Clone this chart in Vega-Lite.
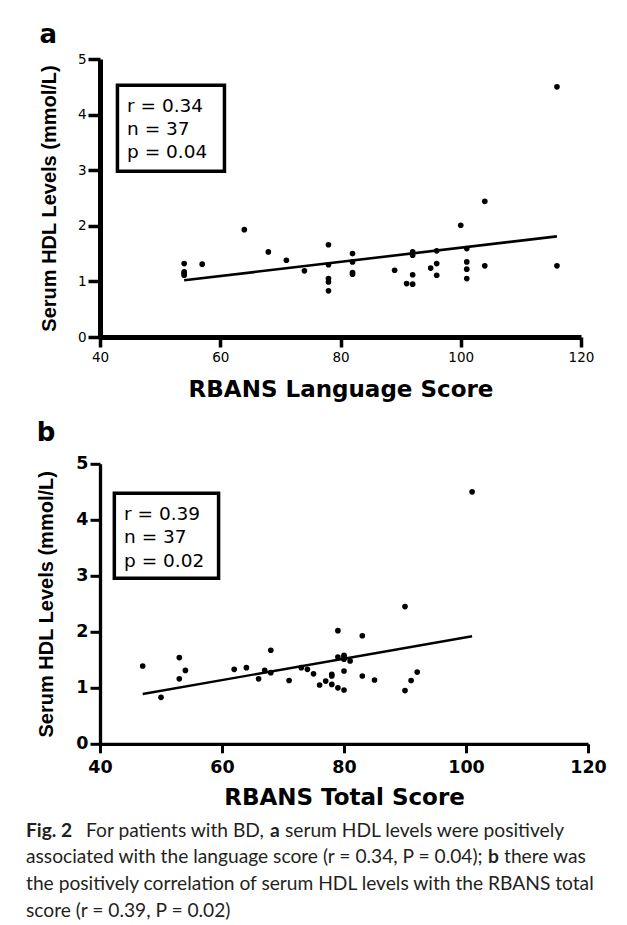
{
  "$schema": "https://vega.github.io/schema/vega-lite/v6.json",
  "background": "white",
  "padding": {"left": 26, "top": 22, "right": 0, "bottom": 0},
  "spacing": 17.8,
  "config": {"view": {"stroke": null}, "font": "DejaVu Sans"},
  "datasets": {
    "a": [
      {"lang": 54, "hdl": 1.32}, {"lang": 54, "hdl": 1.17}, {"lang": 54, "hdl": 1.14}, {"lang": 54, "hdl": 1.11},
      {"lang": 57, "hdl": 1.31}, {"lang": 64, "hdl": 1.93}, {"lang": 68, "hdl": 1.53}, {"lang": 71, "hdl": 1.38},
      {"lang": 74, "hdl": 1.19}, {"lang": 78, "hdl": 1.66}, {"lang": 78, "hdl": 1.30}, {"lang": 78, "hdl": 1.05},
      {"lang": 78, "hdl": 0.99}, {"lang": 78, "hdl": 0.83}, {"lang": 82, "hdl": 1.50}, {"lang": 82, "hdl": 1.35},
      {"lang": 82, "hdl": 1.16}, {"lang": 82, "hdl": 1.13}, {"lang": 89, "hdl": 1.20}, {"lang": 91, "hdl": 0.96},
      {"lang": 92, "hdl": 1.53}, {"lang": 92, "hdl": 1.47}, {"lang": 92, "hdl": 1.12}, {"lang": 92, "hdl": 0.95},
      {"lang": 95, "hdl": 1.24}, {"lang": 96, "hdl": 1.55}, {"lang": 96, "hdl": 1.32}, {"lang": 96, "hdl": 1.11},
      {"lang": 100, "hdl": 2.01}, {"lang": 101, "hdl": 1.59}, {"lang": 101, "hdl": 1.35}, {"lang": 101, "hdl": 1.22},
      {"lang": 101, "hdl": 1.05}, {"lang": 104, "hdl": 2.44}, {"lang": 104, "hdl": 1.28}, {"lang": 116, "hdl": 4.50},
      {"lang": 116, "hdl": 1.28}
    ],
    "fitA": [{"lang": 54, "hdl": 1.02}, {"lang": 116, "hdl": 1.81}],
    "b": [
      {"total": 47, "hdl": 1.39}, {"total": 50, "hdl": 0.83}, {"total": 53, "hdl": 1.54}, {"total": 53, "hdl": 1.16},
      {"total": 54, "hdl": 1.31}, {"total": 62, "hdl": 1.33}, {"total": 64, "hdl": 1.36}, {"total": 66, "hdl": 1.16},
      {"total": 67, "hdl": 1.31}, {"total": 68, "hdl": 1.67}, {"total": 68, "hdl": 1.27}, {"total": 71, "hdl": 1.13},
      {"total": 73, "hdl": 1.36}, {"total": 74, "hdl": 1.33}, {"total": 75, "hdl": 1.25}, {"total": 76, "hdl": 1.05},
      {"total": 77, "hdl": 1.12}, {"total": 78, "hdl": 1.21}, {"total": 78, "hdl": 1.24}, {"total": 78, "hdl": 1.06},
      {"total": 79, "hdl": 2.02}, {"total": 79, "hdl": 1.55}, {"total": 79, "hdl": 1.00}, {"total": 80, "hdl": 1.58},
      {"total": 80, "hdl": 1.51}, {"total": 80, "hdl": 1.55}, {"total": 80, "hdl": 1.30}, {"total": 80, "hdl": 0.96},
      {"total": 81, "hdl": 1.48}, {"total": 83, "hdl": 1.93}, {"total": 83, "hdl": 1.21}, {"total": 85, "hdl": 1.14},
      {"total": 90, "hdl": 2.45}, {"total": 90, "hdl": 0.95}, {"total": 91, "hdl": 1.13}, {"total": 92, "hdl": 1.28},
      {"total": 101, "hdl": 4.50}
    ],
    "fitB": [{"total": 47, "hdl": 0.89}, {"total": 101, "hdl": 1.92}],
    "caption": [
      {"line": 1, "seg": "fig", "text": "Fig. 2"},
      {"line": 1, "seg": "l1a", "text": "For patients with BD,"},
      {"line": 1, "seg": "l1b", "text": "a"},
      {"line": 1, "seg": "l1c", "text": "serum HDL levels were positively"},
      {"line": 2, "seg": "l2a", "text": "associated with the language score (r = 0.34, P = 0.04);"},
      {"line": 2, "seg": "l2b", "text": "b"},
      {"line": 2, "seg": "l2c", "text": "there was"},
      {"line": 3, "seg": "plain", "text": "the positively correlation of serum HDL levels with the RBANS total"},
      {"line": 4, "seg": "plain", "text": "score (r = 0.39, P = 0.02)"}
    ]
  },
  "vconcat": [
    {
      "width": 481,
      "height": 278,
      "title": {"text": "a", "anchor": "start", "frame": "bounds", "font": "DejaVu Sans", "fontSize": 26, "fontWeight": "bold", "color": "black", "offset": 4},
      "layer": [
        {
          "data": {"name": "a"},
          "mark": {"type": "circle", "size": 32, "opacity": 1, "color": "black"},
          "encoding": {
            "x": {"field": "lang", "type": "quantitative", "scale": {"domain": [40, 120], "nice": false, "zero": false},
              "axis": {"title": "RBANS Language Score", "values": [40, 60, 80, 100, 120], "grid": false,
                "domainWidth": 5, "domainColor": "black", "tickColor": "black", "tickWidth": 3.5, "tickSize": 10,
                "labelFont": "DejaVu Sans", "labelFontSize": 13.5, "labelColor": "black", "labelPadding": 3, "labelFlush": false,
                "titleFont": "DejaVu Sans", "titleFontSize": 23, "titleFontWeight": "bold", "titleColor": "black", "titlePadding": 15}},
            "y": {"field": "hdl", "type": "quantitative", "scale": {"domain": [0, 5], "nice": false},
              "axis": {"title": "Serum HDL Levels (mmol/L)", "values": [0, 1, 2, 3, 4, 5], "grid": false,
                "domainWidth": 5, "domainColor": "black", "tickColor": "black", "tickWidth": 3.5, "tickSize": 12,
                "labelFont": "DejaVu Sans", "labelFontSize": 13.5, "labelColor": "black", "labelPadding": 2, "labelFlush": false,
                "titleFont": "Liberation Sans", "titleFontSize": 20, "titleFontWeight": "bold", "titleColor": "black", "titlePadding": 18}}
          }
        },
        {
          "data": {"name": "fitA"},
          "mark": {"type": "line", "color": "black", "strokeWidth": 2.6},
          "encoding": {"x": {"field": "lang", "type": "quantitative"}, "y": {"field": "hdl", "type": "quantitative"}}
        },
        {
          "data": {"values": [{}]},
          "mark": {"type": "rect", "fill": "white", "stroke": "black", "strokeWidth": 3.5},
          "encoding": {"x": {"datum": 42.9}, "x2": {"datum": 60.7}, "y": {"datum": 4.53}, "y2": {"datum": 2.98}}
        },
        {
          "data": {"values": [{}]},
          "mark": {"type": "text", "align": "left", "baseline": "alphabetic", "font": "DejaVu Sans", "fontSize": 18.5, "lineHeight": 23.3, "color": "black",
            "text": ["r = 0.34", "n = 37", "p = 0.04"]},
          "encoding": {"x": {"datum": 44.5}, "y": {"datum": 4.05}}
        }
      ]
    },
    {
      "spacing": 11.5,
      "vconcat": [
        {
          "width": 488,
          "height": 280,
          "title": {"text": "b", "anchor": "start", "frame": "bounds", "font": "DejaVu Sans", "fontSize": 26, "fontWeight": "bold", "color": "black", "offset": 9},
          "layer": [
            {
              "data": {"name": "b"},
              "mark": {"type": "circle", "size": 32, "opacity": 1, "color": "black"},
              "encoding": {
                "x": {"field": "total", "type": "quantitative", "scale": {"domain": [40, 120], "nice": false, "zero": false},
                  "axis": {"title": "RBANS Total Score", "values": [40, 60, 80, 100, 120], "grid": false,
                    "domainWidth": 3.3, "domainColor": "black", "tickColor": "black", "tickWidth": 3, "tickSize": 9,
                    "labelFont": "DejaVu Sans", "labelFontSize": 17.5, "labelFontWeight": "bold", "labelColor": "black", "labelPadding": 6, "labelFlush": false,
                    "titleFont": "DejaVu Sans", "titleFontSize": 23, "titleFontWeight": "bold", "titleColor": "black", "titlePadding": 10}},
                "y": {"field": "hdl", "type": "quantitative", "scale": {"domain": [0, 5], "nice": false},
                  "axis": {"title": "Serum HDL Levels (mmol/L)", "values": [0, 1, 2, 3, 4, 5], "grid": false,
                    "domainWidth": 3.3, "domainColor": "black", "tickColor": "black", "tickWidth": 3, "tickSize": 10,
                    "labelFont": "DejaVu Sans", "labelFontSize": 17.5, "labelFontWeight": "bold", "labelColor": "black", "labelPadding": 2, "labelFlush": false,
                    "titleFont": "Liberation Sans", "titleFontSize": 20, "titleFontWeight": "bold", "titleColor": "black", "titlePadding": 19}}
              }
            },
            {
              "data": {"name": "fitB"},
              "mark": {"type": "line", "color": "black", "strokeWidth": 2.4},
              "encoding": {"x": {"field": "total", "type": "quantitative"}, "y": {"field": "hdl", "type": "quantitative"}}
            },
            {
              "data": {"values": [{}]},
              "mark": {"type": "rect", "fill": "white", "stroke": "black", "strokeWidth": 3.5},
              "encoding": {"x": {"datum": 42.35}, "x2": {"datum": 59.44}, "y": {"datum": 4.475}, "y2": {"datum": 2.957}}
            },
            {
              "data": {"values": [{}]},
              "mark": {"type": "text", "align": "left", "baseline": "alphabetic", "font": "DejaVu Sans", "fontSize": 18.5, "lineHeight": 23.6, "color": "black",
                "text": ["r = 0.39", "n = 37", "p = 0.02"]},
              "encoding": {"x": {"datum": 43.94}, "y": {"datum": 4.0}}
            }
          ]
        },
        {
          "width": 600,
          "height": 107,
          "data": {"name": "caption"},
          "encoding": {
            "x": {"value": -74},
            "y": {"field": "line", "type": "ordinal", "axis": null},
            "text": {"field": "text"}
          },
          "layer": [
            {"transform": [{"filter": "datum.seg === 'plain'"}],
             "mark": {"type": "text", "align": "left", "baseline": "alphabetic", "font": "Lato", "fontSize": 19.2, "color": "#231f20"}},
            {"transform": [{"filter": "datum.seg === 'fig'"}],
             "mark": {"type": "text", "align": "left", "baseline": "alphabetic", "font": "Lato", "fontSize": 19.2, "fontWeight": "bold", "color": "#231f20"}},
            {"transform": [{"filter": "datum.seg === 'l1a'"}],
             "mark": {"type": "text", "align": "left", "baseline": "alphabetic", "font": "Lato", "fontSize": 19.2, "color": "#231f20", "dx": 60}},
            {"transform": [{"filter": "datum.seg === 'l1b'"}],
             "mark": {"type": "text", "align": "left", "baseline": "alphabetic", "font": "Lato", "fontSize": 19.2, "fontWeight": "bold", "color": "#231f20", "dx": 244}},
            {"transform": [{"filter": "datum.seg === 'l1c'"}],
             "mark": {"type": "text", "align": "left", "baseline": "alphabetic", "font": "Lato", "fontSize": 19.2, "color": "#231f20", "dx": 259}},
            {"transform": [{"filter": "datum.seg === 'l2a'"}],
             "mark": {"type": "text", "align": "left", "baseline": "alphabetic", "font": "Lato", "fontSize": 19.2, "color": "#231f20"}},
            {"transform": [{"filter": "datum.seg === 'l2b'"}],
             "mark": {"type": "text", "align": "left", "baseline": "alphabetic", "font": "Lato", "fontSize": 19.2, "fontWeight": "bold", "color": "#231f20", "dx": 462}},
            {"transform": [{"filter": "datum.seg === 'l2c'"}],
             "mark": {"type": "text", "align": "left", "baseline": "alphabetic", "font": "Lato", "fontSize": 19.2, "color": "#231f20", "dx": 478}}
          ]
        }
      ]
    }
  ]
}
